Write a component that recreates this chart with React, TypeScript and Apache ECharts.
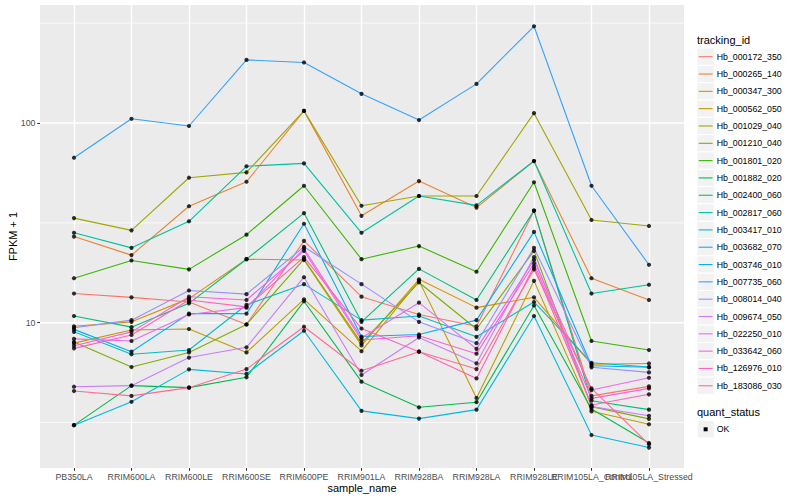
import React, { useEffect, useRef } from "react";
import * as echarts from "echarts";

const categories = [
  "PB350LA", "RRIM600LA", "RRIM600LE", "RRIM600SE", "RRIM600PE", "RRIM901LA",
  "RRIM928BA", "RRIM928LA", "RRIM928LE", "RRIM105LA_Control", "RRIM105LA_Stressed",
];

const trackingIds = [
  "Hb_000172_350", "Hb_000265_140", "Hb_000347_300", "Hb_000562_050", "Hb_001029_040",
  "Hb_001210_040", "Hb_001801_020", "Hb_001882_020", "Hb_002400_060", "Hb_002817_060",
  "Hb_003417_010", "Hb_003682_070", "Hb_003746_010", "Hb_007735_060", "Hb_008014_040",
  "Hb_009674_050", "Hb_022250_010", "Hb_033642_060", "Hb_126976_010", "Hb_183086_030",
];

const seriesColors = [
  "#F8766D", "#EA8331", "#D89000", "#C09B00", "#A3A500", "#7CAE00", "#39B600", "#00BB4E",
  "#00BF7D", "#00C1A3", "#00BFC4", "#00BAE0", "#00B0F6", "#35A2FF", "#9590FF", "#C77CFF",
  "#E76BF3", "#FA62DB", "#FF62BC", "#FF6C91",
];

// FPKM + 1 values, one per sample
const hb_000172 = [14.0, 13.4, 12.7, 9.8, 25.7, 13.5, 11.0, 9.6, 36.4, 4.3, 4.8];
const hb_000265 = [27.0, 21.8, 38.3, 50.8, 115, 34.3, 51.2, 37.7, 64.5, 16.7, 13.0];
const hb_000347 = [9.6, 10.1, 13.2, 20.8, 20.6, 7.7, 16.5, 11.9, 13.4, 6.2, 6.25];
const hb_000562 = [7.9, 9.2, 9.3, 7.1, 13.1, 7.2, 16.2, 4.2, 16.2, 3.6, 3.1];
const hb_001029 = [33.4, 29.0, 53.2, 56.6, 115, 38.5, 43.1, 43.1, 112, 32.7, 30.5];
const hb_001210 = [8.0, 6.0, 7.1, 9.8, 20.8, 7.9, 15.9, 9.3, 22.9, 3.8, 3.3];
const hb_001801 = [16.7, 20.5, 18.5, 27.6, 48.5, 20.8, 24.2, 18.0, 50.5, 8.1, 7.3];
const hb_001882 = [3.07, 4.84, 4.73, 5.33, 12.8, 5.07, 3.77, 4.0, 12.2, 3.7, 2.5];
const hb_002400 = [10.8, 9.5, 12.5, 20.8, 35.4, 10.1, 18.6, 13.0, 36.4, 4.07, 3.67];
const hb_002817 = [28.2, 23.7, 32.2, 60.7, 62.8, 28.2, 43.1, 38.7, 64.5, 14.0, 15.5];
const hb_003417 = [9.0, 6.95, 7.3, 12.3, 15.6, 10.3, 10.8, 8.5, 12.7, 6.3, 6.0];
const hb_003682 = [3.07, 4.02, 5.84, 5.54, 9.12, 3.62, 3.31, 3.67, 10.8, 2.74, 2.37];
const hb_003746 = [9.26, 7.16, 11.1, 11.1, 31.3, 8.53, 8.73, 10.3, 28.5, 6.09, 5.98];
const hb_007735 = [67.0, 105, 96.6, 207, 201, 140, 103.5, 157, 305, 48.5, 19.5];
const hb_008014 = [9.44, 10.3, 14.5, 13.9, 24.0, 15.6, 10.1, 7.9, 23.7, 5.98, 5.64];
const hb_009674 = [4.78, 4.84, 6.69, 7.53, 16.9, 5.47, 8.43, 6.26, 21.3, 3.8, 3.42];
const hb_022250 = [8.3, 8.1, 11.0, 11.9, 23.5, 8.4, 12.6, 7.4, 20.6, 4.6, 5.3];
const hb_033642 = [7.67, 9.0, 13.5, 13.0, 22.9, 8.2, 8.6, 7.0, 19.8, 4.18, 4.69];
const hb_126976 = [7.44, 8.68, 13.0, 12.0, 21.3, 9.35, 7.16, 5.26, 19.1, 3.87, 4.38];
const hb_183086 = [4.55, 4.3, 4.73, 5.86, 9.55, 5.75, 7.16, 5.86, 18.5, 4.69, 2.46];

const seriesValues = [
  hb_000172, hb_000265, hb_000347, hb_000562, hb_001029, hb_001210, hb_001801,
  hb_001882, hb_002400, hb_002817, hb_003417, hb_003682, hb_003746, hb_007735,
  hb_008014, hb_009674, hb_022250, hb_033642, hb_126976, hb_183086,
];

const yTicks = [10, 100];
const yMajorGrid = [10, 100];
const yMinorGrid = [3.1623, 31.623, 316.23];
const yMin = 1.873;
const yMax = 389.8;

const FONT = "'Liberation Sans', Arial, Helvetica, sans-serif";

export default function App() {
  const ref = useRef<HTMLDivElement>(null);

  useEffect(() => {
    if (!ref.current) return;
    const chart = echarts.init(ref.current, undefined, { renderer: "svg" });

    const gridSeries: any[] = [];
    yMajorGrid.forEach((g) =>
      gridSeries.push({
        type: "line", xAxisIndex: 0, yAxisIndex: 0, data: [[0, g], [1, g]],
        symbol: "none", silent: true, z: 1,
        lineStyle: { color: "#FFFFFF", width: 1.4 },
      })
    );
    yMinorGrid.forEach((g) =>
      gridSeries.push({
        type: "line", xAxisIndex: 0, yAxisIndex: 0, data: [[0, g], [1, g]],
        symbol: "none", silent: true, z: 1,
        lineStyle: { color: "#FFFFFF", width: 0.7 },
      })
    );

    const lineSeries = seriesValues.map((vals, i) => ({
      type: "line", name: trackingIds[i], xAxisIndex: 1, yAxisIndex: 1,
      data: vals, showSymbol: false, symbol: "none", z: 3,
      lineStyle: { color: seriesColors[i], width: 1.1 },
      itemStyle: { color: seriesColors[i] },
    }));

    const pointData: number[][] = [];
    seriesValues.forEach((vals) => vals.forEach((v, j) => pointData.push([j, v])));
    const pointSeries = {
      type: "scatter", name: "OK", xAxisIndex: 1, yAxisIndex: 1,
      data: pointData, symbol: "circle", symbolSize: 4.2, z: 5,
      itemStyle: { color: "#000000" },
    };

    const keyTop = 48.05;
    const keyStep = 17.32;
    const keySize = 17.3;
    const legendX = 697;
    const graphics: any[] = [];
    graphics.push({
      type: "text", x: legendX, y: 40,
      style: { text: "tracking_id", fontSize: 11, fill: "#000", fontFamily: FONT, verticalAlign: "middle", align: "left" },
    });
    trackingIds.forEach((id, i) => {
      const y0 = keyTop + i * keyStep;
      const cy = y0 + keySize / 2;
      graphics.push({
        type: "rect", shape: { x: legendX, y: y0, width: keySize, height: keySize },
        style: { fill: "#F2F2F2", stroke: "#FFFFFF", lineWidth: 1 },
      });
      graphics.push({
        type: "line", shape: { x1: legendX + 1.7, y1: cy, x2: legendX + keySize - 1.7, y2: cy },
        style: { stroke: seriesColors[i], lineWidth: 1.1 },
      });
      graphics.push({
        type: "text", x: legendX + 19.7, y: cy,
        style: { text: id, fontSize: 8.8, fill: "#000", fontFamily: FONT, verticalAlign: "middle", align: "left" },
      });
    });
    graphics.push({
      type: "text", x: legendX, y: 411.7,
      style: { text: "quant_status", fontSize: 11, fill: "#000", fontFamily: FONT, verticalAlign: "middle", align: "left" },
    });
    graphics.push({
      type: "rect", shape: { x: legendX, y: 429.3 - keySize / 2, width: keySize, height: keySize },
      style: { fill: "#F2F2F2", stroke: "#FFFFFF", lineWidth: 1 },
    });
    graphics.push({
      type: "rect", shape: { x: legendX + keySize / 2 - 2, y: 429.3 - 2, width: 4, height: 4 },
      style: { fill: "#000000" },
    });
    graphics.push({
      type: "text", x: legendX + 19.7, y: 429.3,
      style: { text: "OK", fontSize: 8.8, fill: "#000", fontFamily: FONT, verticalAlign: "middle", align: "left" },
    });
    graphics.push({
      type: "text", x: 12.5, y: 236.5, rotation: Math.PI / 2,
      style: { text: "FPKM + 1", fontSize: 11, fill: "#000", fontFamily: FONT, verticalAlign: "middle", align: "center" },
    });
    graphics.push({
      type: "text", x: 362, y: 488,
      style: { text: "sample_name", fontSize: 11, fill: "#000", fontFamily: FONT, verticalAlign: "middle", align: "center" },
    });

    chart.setOption({
      animation: false,
      backgroundColor: "#FFFFFF",
      textStyle: { fontFamily: FONT },
      grid: [
        { left: 40, top: 5, width: 644, height: 463, show: true, backgroundColor: "#EBEBEB", borderWidth: 0 },
        { left: 74, top: 5, width: 575, height: 463, show: false },
      ],
      xAxis: [
        { type: "value", gridIndex: 0, min: 0, max: 1, show: false },
        {
          type: "category", gridIndex: 1, data: categories, boundaryGap: false,
          axisLine: { show: false },
          axisTick: { show: true, length: 2.75, interval: 0, lineStyle: { color: "#333333", width: 1.07 } },
          axisLabel: { interval: 0, color: "#4D4D4D", fontSize: 8.8, margin: 4.5, fontFamily: FONT, hideOverlap: false },
          splitLine: { show: true, interval: 0, lineStyle: { color: "#FFFFFF", width: 1.4 } },
        },
      ],
      yAxis: [
        {
          type: "log", logBase: 10, gridIndex: 0, min: yMin, max: yMax,
          axisLine: { show: false },
          axisTick: { show: true, length: 2.75, customValues: yTicks, lineStyle: { color: "#333333", width: 1.07 } },
          axisLabel: { customValues: yTicks, color: "#4D4D4D", fontSize: 8.8, margin: 4.5, fontFamily: FONT },
          splitLine: { show: false },
          minorTick: { show: false },
        },
        { type: "log", logBase: 10, gridIndex: 1, min: yMin, max: yMax, show: false, splitLine: { show: false } },
      ],
      graphic: graphics,
      series: [...gridSeries, ...lineSeries, pointSeries],
    });

    return () => chart.dispose();
  }, []);

  return (
    <div
      ref={ref}
      style={{ position: "fixed", left: 0, top: 0, width: "800px", height: "500px" }}
    />
  );
}
